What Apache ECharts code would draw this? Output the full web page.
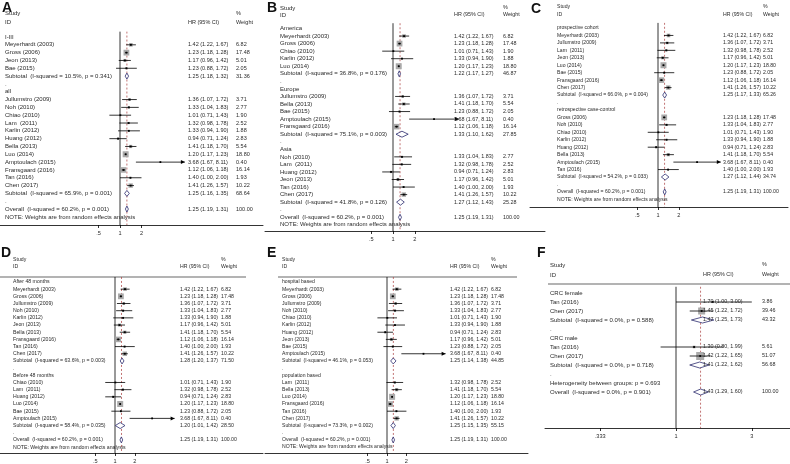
<!DOCTYPE html>
<html>
<head>
<meta charset="utf-8">
<script src="https://cdn.jsdelivr.net/npm/echarts@6/dist/echarts.min.js"></script>
<style>
  html, body { margin: 0; padding: 0; background: #fff; }
  #chart { width: 790px; height: 464px; }
</style>
</head>
<body>
<div id="chart"></div>
<script>
// ---- study level data (same 16 studies in panels A-E) ----
const studies = ['Meyerhardt (2003)', 'Gross (2006)', 'Jullumstro (2009)', 'Noh (2010)', 'Chiao (2010)',
  'Lam  (2011)', 'Karlin (2012)', 'Huang (2012)', 'Jeon (2013)', 'Bella (2013)', 'Luo (2014)',
  'Bae (2015)', 'Amptoulach (2015)', 'Fransgaard (2016)', 'Tan (2016)', 'Chen (2017)']
const hr = [1.42, 1.23, 1.36, 1.33, 1.01, 1.32, 1.33, 0.94, 1.17, 1.41, 1.20, 1.23, 3.68, 1.12, 1.40, 1.41]
const lo = [1.22, 1.18, 1.07, 1.04, 0.71, 0.98, 0.94, 0.71, 0.96, 1.18, 1.17, 0.88, 1.67, 1.06, 1.00, 1.26]
const hi = [1.67, 1.28, 1.72, 1.83, 1.43, 1.78, 1.90, 1.24, 1.42, 1.70, 1.23, 1.72, 8.11, 1.18, 2.00, 1.57]
const wt = [6.82, 17.48, 3.71, 2.77, 1.90, 2.52, 1.88, 2.83, 5.01, 5.54, 18.80, 2.05, 0.40, 16.14, 1.93, 10.22]

// overall (random effects) for A-E
const overallHR = [1.25, 1.19, 1.31]
const overallI2 = '60.2'
const overallP = '0.001'
const noteText = 'NOTE: Weights are from random effects analysis'

// A: stage
const aGroups = ['I-III', 'all']
const aMembers = [[0, 1, 8, 11], [2, 3, 4, 5, 6, 7, 9, 10, 12, 13, 14, 15]]
const aI2 = ['10.5', '65.9'], aP = ['0.341', '0.001']
const aHR = [1.25, 1.25], aLo = [1.18, 1.16], aHi = [1.32, 1.35], aWt = [31.36, 68.64]

// B: region
const bGroups = ['America', 'Europe', 'Asia']
const bMembers = [[0, 1, 4, 6, 10], [2, 9, 11, 12, 13], [3, 5, 7, 8, 14, 15]]
const bI2 = ['36.8', '75.1', '41.8'], bP = ['0.176', '0.003', '0.126']
const bHR = [1.22, 1.33, 1.27], bLo = [1.17, 1.10, 1.12], bHi = [1.27, 1.62, 1.43], bWt = [46.87, 27.85, 25.28]

// C: design
const cGroups = ['prospective cohort', 'retrospective case-control']
const cMembers = [[0, 2, 5, 8, 10, 11, 13, 15], [1, 3, 4, 6, 7, 9, 12, 14]]
const cI2 = ['66.0', '54.2'], cP = ['0.004', '0.033']
const cHR = [1.25, 1.27], cLo = [1.17, 1.12], cHi = [1.33, 1.44], cWt = [65.26, 34.74]

// D: follow-up
const dGroups = ['After 48 months', 'Before 48 months']
const dMembers = [[0, 1, 2, 3, 6, 8, 9, 13, 14, 15], [4, 5, 7, 10, 11, 12]]
const dI2 = ['63.6', '58.4'], dP = ['0.003', '0.035']
const dHR = [1.28, 1.20], dLo = [1.20, 1.01], dHi = [1.37, 1.42], dWt = [71.50, 28.50]

// E: source
const eGroups = ['hospital based', 'population based']
const eMembers = [[0, 1, 2, 3, 4, 6, 7, 8, 11, 12], [5, 9, 10, 13, 14, 15]]
const eI2 = ['46.1', '73.3'], eP = ['0.053', '0.002']
const eHR = [1.25, 1.25], eLo = [1.14, 1.15], eHi = [1.38, 1.35], eWt = [44.85, 55.15]

// F: sex (fixed effects)
const fGroups = ['CRC female', 'CRC male']
const fNames = [['Tan (2016)', 'Chen (2017)'], ['Tan (2016)', 'Chen (2017)']]
const fHR = [[1.70, 1.45], [1.30, 1.42]]
const fLo = [[1.00, 1.22], [0.80, 1.22]]
const fHi = [[3.00, 1.72], [1.99, 1.65]]
const fWt = [[3.86, 39.46], [5.61, 51.07]]
const fI2 = ['0.0', '0.0'], fP = ['0.588', '0.718']
const fSubHR = [1.47, 1.41], fSubLo = [1.25, 1.22], fSubHi = [1.73, 1.62], fSubWt = [43.32, 56.68]
const fOverall = [1.43, 1.29, 1.60], fOverallI2 = '0.0', fOverallP = '0.901', fHetP = '0.693'

const ticksAE = [0.5, 1, 2], ticksAEText = ['.5', '1', '2']
const ticksF = [1 / 3, 1, 3], ticksFText = ['.333', '1', '3']

// ---- build the rows of one panel ----
const f2 = v => v.toFixed(2)
function groupRows (groups, members, i2, p, sHR, sLo, sHi, sWt) {
  const rows = []
  groups.forEach((g, gi) => {
    rows.push({ kind: 'head', label: g })
    members[gi].forEach(s => rows.push({ kind: 'study', label: studies[s], hr: hr[s], lo: lo[s], hi: hi[s], wt: wt[s] }))
    rows.push({ kind: 'sub', label: 'Subtotal  (I-squared = ' + i2[gi] + '%, p = ' + p[gi] + ')', hr: sHR[gi], lo: sLo[gi], hi: sHi[gi], wt: sWt[gi] })
    rows.push({ kind: 'head', label: '.' })
  })
  rows.push({ kind: 'sub', label: 'Overall  (I-squared = ' + overallI2 + '%, p = ' + overallP + ')', hr: overallHR[0], lo: overallHR[1], hi: overallHR[2], wt: 100 })
  rows.push({ kind: 'head', label: noteText })
  return rows
}
function fRows () {
  const rows = []
  fGroups.forEach((g, gi) => {
    rows.push({ kind: 'head', label: g })
    fNames[gi].forEach((n, j) => rows.push({ kind: 'study', label: n, hr: fHR[gi][j], lo: fLo[gi][j], hi: fHi[gi][j], wt: fWt[gi][j] }))
    rows.push({ kind: 'sub', label: 'Subtotal  (I-squared = ' + fI2[gi] + '%, p = ' + fP[gi] + ')', hr: fSubHR[gi], lo: fSubLo[gi], hi: fSubHi[gi], wt: fSubWt[gi] })
    rows.push({ kind: 'head', label: '.' })
  })
  rows.push({ kind: 'head', label: 'Heterogeneity between groups: p = ' + fHetP })
  rows.push({ kind: 'sub', label: 'Overall  (I-squared = ' + fOverallI2 + '%, p = ' + fOverallP + ')', hr: fOverall[0], lo: fOverall[1], hi: fOverall[2], wt: 100 })
  return rows
}

// pixel layout of the six panels (lfs = label font, nfs = number font)
const panels = [
  { id: 'A', rows: groupRows(aGroups, aMembers, aI2, aP, aHR, aLo, aHi, aWt), ticks: ticksAE, tickText: ticksAEText, ov: overallHR[0],
    left: 0, width: 263, x0: 120, k: 31, row0: 37, dy: 7.82, axisY: 225, labelX: 5, hrX: 188, wX: 236, letter: [2, 1], studyY: 13, idY: 22, boxMax: 18.8, boxPx: 6, lfs: 6, nfs: 5.5 },
  { id: 'B', rows: groupRows(bGroups, bMembers, bI2, bP, bHR, bLo, bHi, bWt), ticks: ticksAE, tickText: ticksAEText, ov: overallHR[0],
    left: 265, width: 280, x0: 393, k: 31.5, row0: 28.5, dy: 7.55, axisY: 231, labelX: 280, hrX: 454, wX: 503, letter: [267, 1], studyY: 8, idY: 15, boxMax: 18.8, boxPx: 6, lfs: 6, nfs: 5.4 },
  { id: 'C', rows: groupRows(cGroups, cMembers, cI2, cP, cHR, cLo, cHi, cWt), ticks: ticksAE, tickText: ticksAEText, ov: overallHR[0],
    left: 530, width: 258, x0: 658, k: 30, row0: 28, dy: 7.45, axisY: 207, labelX: 557, hrX: 723, wX: 763, letter: [531, 2], studyY: 7, idY: 15, boxMax: 18.8, boxPx: 6, lfs: 5.1, nfs: 5.2 },
  { id: 'D', rows: groupRows(dGroups, dMembers, dI2, dP, dHR, dLo, dHi, dWt), ticks: ticksAE, tickText: ticksAEText, ov: overallHR[0],
    left: 0, width: 263, x0: 115, k: 28.5, row0: 282, dy: 7.22, axisY: 454, labelX: 13, hrX: 180, wX: 221, letter: [1, 246], studyY: 260, idY: 267, hline: [0, 246, 277], boxMax: 18.8, boxPx: 6, lfs: 5.2, nfs: 5.2 },
  { id: 'E', rows: groupRows(eGroups, eMembers, eI2, eP, eHR, eLo, eHi, eWt), ticks: ticksAE, tickText: ticksAEText, ov: overallHR[0],
    left: 265, width: 263, x0: 387, k: 28, row0: 282, dy: 7.22, axisY: 454, labelX: 282, hrX: 450, wX: 491, letter: [267, 246], studyY: 260, idY: 267, hline: [278, 517, 277], boxMax: 18.8, boxPx: 6, lfs: 5.1, nfs: 5.2 },
  { id: 'F', rows: fRows(), ticks: ticksF, tickText: ticksFText, ov: fOverall[0],
    left: 545, width: 245, x0: 676, k: 69, row0: 293, dy: 9, axisY: 428, labelX: 550, hrX: 703, wX: 762, letter: [537, 246], studyY: 265, idY: 275, hline: [548, 790, 284], boxMax: 51.07, boxPx: 8, lfs: 6, nfs: 5.4 }
]

const FONT = '"Liberation Sans", Arial, sans-serif'
const TXT = '#2a2a2a'

function makeRender (P) {
  return function (params, api) {
    const r = P.rows[params.dataIndex]
    const y = api.coord([0, params.dataIndex])[1]
    const X = v => api.coord([Math.log(v), params.dataIndex])[0]
    const ch = []
    const ts = (text, x, fs) => ({ type: 'text', style: { text, x, y, fill: TXT, fontSize: fs, fontFamily: FONT, verticalAlign: 'middle', align: 'left' } })
    ch.push(ts(r.label, P.labelX, P.lfs))
    if (r.kind === 'study') {
      const x1 = X(r.lo), x2 = X(r.hi), cx = X(r.hr)
      const s = Math.max(1, P.boxPx * Math.sqrt(r.wt / P.boxMax))
      ch.push({ type: 'rect', shape: { x: cx - s / 2, y: y - s / 2, width: s, height: s }, style: { fill: '#aaaaaa' } })
      ch.push({ type: 'line', shape: { x1, y1: y, x2, y2: y }, style: { stroke: '#000', lineWidth: 0.8 } })
      if (r.hi > 4) {
        ch.push({ type: 'polygon', shape: { points: [[x2, y], [x2 - 4, y - 2], [x2 - 4, y + 2]] }, style: { fill: '#000' } })
      }
      ch.push({ type: 'rect', shape: { x: cx - 0.9, y: y - 0.9, width: 1.8, height: 1.8 }, style: { fill: '#000' } })
    } else if (r.kind === 'sub') {
      const x1 = X(r.lo), x2 = X(r.hi), cx = X(r.hr), h = 3
      ch.push({ type: 'polygon', shape: { points: [[x1, y], [cx, y - h], [x2, y], [cx, y + h]] }, style: { fill: '#fff', stroke: '#2c2c6e', lineWidth: 0.8 } })
    }
    if (r.hr !== undefined) {
      ch.push(ts(f2(r.hr) + ' (' + f2(r.lo) + ', ' + f2(r.hi) + ')', P.hrX, P.nfs))
      ch.push(ts(f2(r.wt), P.wX, P.nfs))
    }
    return { type: 'group', children: ch }
  }
}

const grid = [], xAxis = [], yAxis = [], series = [], graphic = []
panels.forEach((P, i) => {
  const top = P.row0 - 0.7 * P.dy
  const yMax = (P.axisY - P.row0) / P.dy
  grid.push({ left: P.left, top, width: P.width, height: P.axisY - top })
  xAxis.push({
    type: 'value', gridIndex: i,
    min: -(P.x0 - P.left) / P.k, max: (P.left + P.width - P.x0) / P.k,
    axisLine: { onZero: false, lineStyle: { color: '#000', width: 0.8 } },
    axisTick: { customValues: P.ticks.map(Math.log), length: 3, lineStyle: { color: '#000', width: 0.8 } },
    axisLabel: {
      customValues: P.ticks.map(Math.log), margin: 5, fontSize: 5.6, fontFamily: FONT, color: TXT,
      formatter: v => { const j = P.ticks.findIndex(t => Math.abs(Math.log(t) - v) < 1e-6); return j >= 0 ? P.tickText[j] : '' }
    },
    splitLine: { show: false }
  })
  yAxis.push({ type: 'value', gridIndex: i, inverse: true, min: -0.7, max: yMax, show: false })
  // null line at HR = 1
  series.push({ type: 'line', xAxisIndex: i, yAxisIndex: i, data: [[0, -0.7], [0, yMax]], symbol: 'none', silent: true,
    lineStyle: { color: '#000', width: 0.8 }, z: 1 })
  // overall effect line
  series.push({ type: 'line', xAxisIndex: i, yAxisIndex: i, data: [[Math.log(P.ov), -0.7], [Math.log(P.ov), yMax]], symbol: 'none', silent: true,
    lineStyle: { color: '#a83a3a', width: 0.7, type: [2, 2] }, z: 1 })
  series.push({ type: 'custom', xAxisIndex: i, yAxisIndex: i, data: P.rows.map((r, j) => [0, j]), renderItem: makeRender(P), clip: false, silent: true, z: 3 })

  // header texts
  const hs = (text, x, y, fs) => ({ type: 'text', x, y, style: { text, fill: TXT, fontSize: fs, fontFamily: FONT, verticalAlign: 'middle' } })
  graphic.push({ type: 'text', x: P.letter[0], y: P.letter[1], style: { text: P.id, fill: '#111', fontSize: 14, fontWeight: 'bold', fontFamily: FONT } })
  graphic.push(hs('Study', P.labelX, P.studyY, P.lfs), hs('ID', P.labelX, P.idY, P.lfs), hs('HR (95% CI)', P.hrX, P.idY, P.nfs),
    hs('%', P.wX, P.studyY, P.nfs), hs('Weight', P.wX, P.idY, P.nfs))
  if (P.hline) graphic.push({ type: 'line', shape: { x1: P.hline[0], y1: P.hline[2], x2: P.hline[1], y2: P.hline[2] }, style: { stroke: '#000', lineWidth: 0.6 } })
})

const chart = echarts.init(document.getElementById('chart'))
chart.setOption({ animation: false, grid, xAxis, yAxis, series, graphic })
</script>
</body>
</html>
